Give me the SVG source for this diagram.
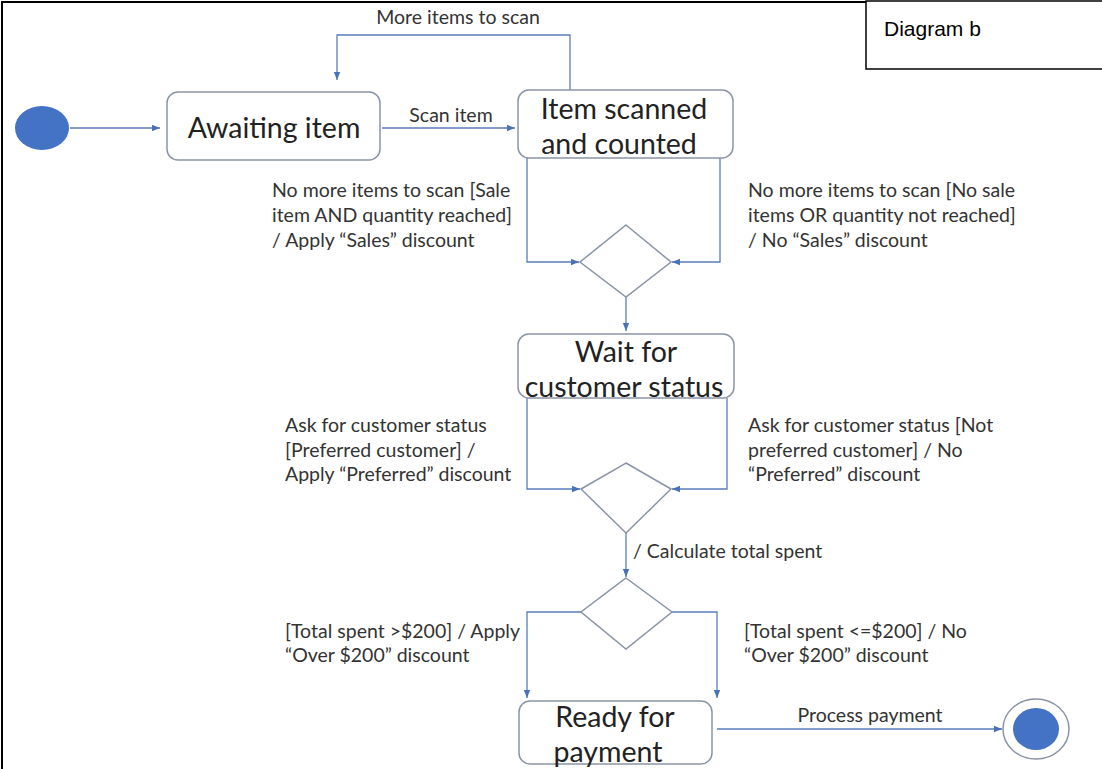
<svg xmlns="http://www.w3.org/2000/svg" width="1102" height="769" viewBox="0 0 1102 769">
<defs>
<marker id="arr" viewBox="0 0 10 10" refX="10" refY="5" markerWidth="8" markerHeight="8" orient="auto" markerUnits="userSpaceOnUse">
<path d="M0,1 L10,5 L0,9 Z" fill="#4A72B8"/>
</marker>
<style>
.frame{fill:none;stroke:#000;stroke-width:2}
.box{fill:#fff;stroke:#8A94A6;stroke-width:1.5}
.dia{fill:#fff;stroke:#8A94A6;stroke-width:1.5}
.ln{fill:none;stroke:#5A7DBA;stroke-width:1.3}
.big{font-family:Lato,"Liberation Sans",sans-serif;font-size:28.5px;fill:#222;text-anchor:middle}
.lbl{font-family:Lato,"Liberation Sans",sans-serif;font-size:19.5px;fill:#333}
.title{font-family:"Liberation Sans",Arial,sans-serif;font-size:21px;fill:#000}
.dot{fill:#4472C4}
</style>
</defs>
<rect width="1102" height="769" fill="#fff"/>
<path class="frame" d="M2,769 L2,2 L1102,2"/>
<g id="title">
<rect x="866" y="1" width="240" height="68" fill="#fff" stroke="#000" stroke-width="1.5"/>
<text class="title" x="884" y="36">Diagram b</text>
</g>
<g id="connectors">
<path class="ln" d="M570,90 L570,35 L337,35 L337,80" marker-end="url(#arr)"/>
<path class="ln" d="M70,128 L160,128" marker-end="url(#arr)"/>
<path class="ln" d="M382,128 L515,128" marker-end="url(#arr)"/>
<path class="ln" d="M527,158 L527,262 L579,262" marker-end="url(#arr)"/>
<path class="ln" d="M720,158 L720,262 L672,262" marker-end="url(#arr)"/>
<path class="ln" d="M626,297 L626,331" marker-end="url(#arr)"/>
<path class="ln" d="M527,398 L527,489 L580,489" marker-end="url(#arr)"/>
<path class="ln" d="M727,398 L727,489 L672,489" marker-end="url(#arr)"/>
<path class="ln" d="M626,533 L626,577" marker-end="url(#arr)"/>
<path class="ln" d="M581,612 L527,612 L527,698" marker-end="url(#arr)"/>
<path class="ln" d="M672,612 L717,612 L717,698" marker-end="url(#arr)"/>
<path class="ln" d="M717,729 L1002,729" marker-end="url(#arr)"/>
<text class="lbl" x="458" y="24" text-anchor="middle">More items to scan</text>
<text class="lbl" x="451" y="122" text-anchor="middle">Scan item</text>
<text class="lbl" x="272" y="197">No more items to scan [Sale</text>
<text class="lbl" x="272" y="222">item AND quantity reached]</text>
<text class="lbl" x="272" y="247">/ Apply “Sales” discount</text>
<text class="lbl" x="748" y="197">No more items to scan [No sale</text>
<text class="lbl" x="748" y="222">items OR quantity not reached]</text>
<text class="lbl" x="748" y="247">/ No “Sales” discount</text>
<text class="lbl" x="285" y="432">Ask for customer status</text>
<text class="lbl" x="285" y="457">[Preferred customer]  /</text>
<text class="lbl" x="285" y="481">Apply “Preferred” discount</text>
<text class="lbl" x="748" y="432">Ask for customer status [Not</text>
<text class="lbl" x="748" y="457">preferred customer] / No</text>
<text class="lbl" x="748" y="481">“Preferred” discount</text>
<text class="lbl" x="633" y="558">/ Calculate total spent</text>
<text class="lbl" x="285" y="638">[Total spent &gt;$200] / Apply</text>
<text class="lbl" x="285" y="662">“Over $200” discount</text>
<text class="lbl" x="744" y="638">[Total spent &lt;=$200] / No</text>
<text class="lbl" x="744" y="662">“Over $200” discount</text>
<text class="lbl" x="870" y="722" text-anchor="middle">Process payment</text>
</g>
<g id="start"><ellipse class="dot" cx="42" cy="128" rx="27" ry="22"/></g>
<g id="awaiting">
<rect class="box" x="167" y="92" width="213" height="68" rx="11"/>
<text class="big" x="274" y="138">Awaiting item</text>
</g>
<g id="scanned">
<rect class="box" x="518" y="90" width="215" height="68" rx="11"/>
<text class="big" x="624" y="119">Item scanned</text>
<text class="big" x="619" y="154">and counted</text>
</g>
<g id="decision1"><path class="dia" d="M626,225 L671,262 L626,297 L580,262 Z"/></g>
<g id="wait">
<rect class="box" x="518" y="334" width="216" height="64" rx="11"/>
<text class="big" x="626" y="362">Wait for</text>
<text class="big" x="624" y="397">customer status</text>
</g>
<g id="decision2"><path class="dia" d="M626,463 L671,489 L626,533 L581,489 Z"/></g>
<g id="decision3"><path class="dia" d="M626,578 L672,612 L626,649 L581,612 Z"/></g>
<g id="ready">
<rect class="box" x="519" y="701" width="193" height="63" rx="11"/>
<text class="big" x="615" y="727">Ready for</text>
<text class="big" x="608" y="762">payment</text>
</g>
<g id="end">
<ellipse cx="1036" cy="729" rx="33" ry="30" fill="#fff" stroke="#8A94A6" stroke-width="1.5"/>
<ellipse class="dot" cx="1036" cy="729" rx="23" ry="21"/>
</g>
</svg>
